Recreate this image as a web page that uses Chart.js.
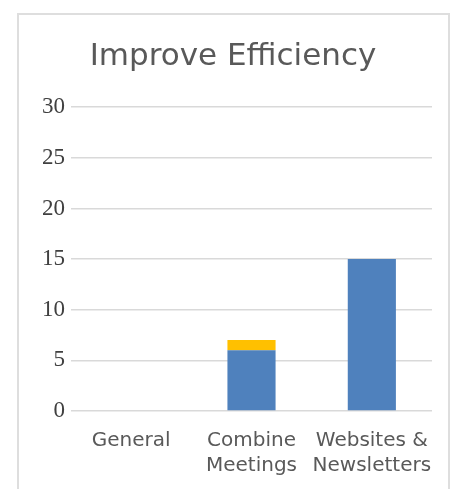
<!DOCTYPE html>
<html>
<head>
<meta charset="utf-8">
<script src="https://cdn.jsdelivr.net/npm/chart.js@4.4.0/dist/chart.umd.min.js"></script>
<style>
  body { margin: 0; background: #fff; }
  #frame {
    position: absolute; left: 17px; top: 13px; width: 429px; height: 490px;
    border: 2px solid #dedede; border-bottom: none;
  }
  #chart { position: absolute; left: 0; top: 0; }
</style>
</head>
<body>
<div id="frame"></div>
<canvas id="chart" width="453" height="489"></canvas>
<script>
// chart data
const categories = [["General"], ["Combine", "Meetings"], ["Websites &", "Newsletters"]];
const blueValues = [0, 6, 15];
const yellowValues = [0, 1, 0];
const yTicks = [0, 5, 10, 15, 20, 25, 30];

const labelFont = "'DejaVu Sans', sans-serif";

let ctx = document.getElementById("chart").getContext("2d");
window.myChart = new Chart(ctx, {
  type: "bar",
  data: {
    labels: categories,
    datasets: [
      { label: "Series 1", data: blueValues, backgroundColor: "#4f81bd" },
      { label: "Series 2", data: yellowValues, backgroundColor: "#ffc000" }
    ]
  },
  options: {
    responsive: false,
    animation: false,
    layout: { padding: { left: 34, right: 21, top: 0, bottom: 0 } },
    datasets: { bar: { categoryPercentage: 1, barPercentage: 0.4 } },
    plugins: {
      legend: { display: false },
      tooltip: { enabled: false },
      title: {
        display: true,
        text: "Improve Efficiency",
        color: "#595959",
        font: { family: labelFont, size: 31, weight: "normal", lineHeight: 1.2 },
        padding: { top: 38, bottom: 32 }
      }
    },
    scales: {
      x: {
        stacked: true,
        grid: { display: false, drawTicks: false },
        border: { display: false },
        afterFit: function (scale) { scale.height = 78; },
        ticks: {
          color: "#595959",
          font: { family: labelFont, size: 20, lineHeight: 1.25 },
          padding: 17,
          maxRotation: 0,
          autoSkip: false
        }
      },
      y: {
        stacked: true,
        min: 0,
        max: 30,
        afterBuildTicks: function (scale) {
          scale.ticks = yTicks.map(v => ({ value: v }));
        },
        afterFit: function (scale) { scale.width = 37; },
        grid: { color: "#d9d9d9", lineWidth: 1.5, drawTicks: false },
        border: { display: false },
        ticks: {
          color: "#404040",
          font: { family: "'Liberation Serif', serif", size: 23 },
          padding: 6
        }
      }
    }
  }
});
</script>
</body>
</html>
